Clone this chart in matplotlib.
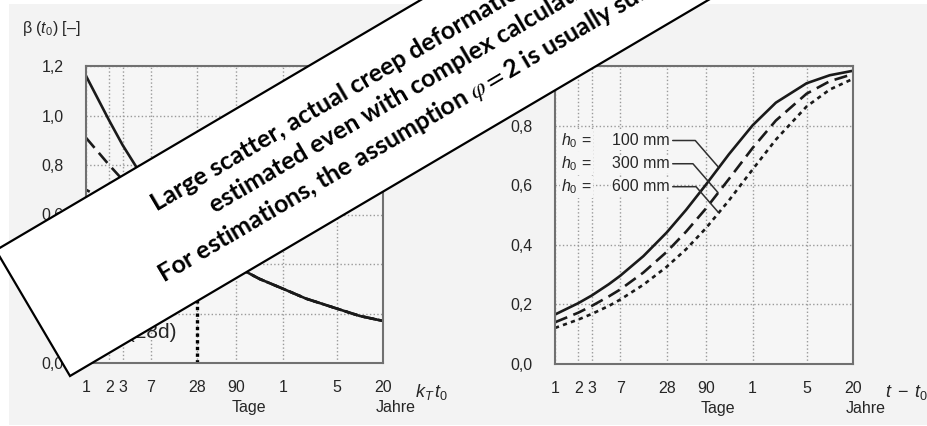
import numpy as np
import matplotlib.pyplot as plt
from matplotlib.patches import Polygon, Rectangle
from matplotlib.ticker import NullLocator

plt.rcParams['font.family'] = ['Liberation Sans', 'DejaVu Sans']
plt.rcParams['mathtext.fontset'] = 'custom'
plt.rcParams['mathtext.rm'] = 'Liberation Sans'
plt.rcParams['mathtext.it'] = 'Liberation Sans:italic'

# age / duration in days (log axis)
days = [1, 2, 3, 5, 7, 14, 28, 50, 90, 180, 365, 730, 1825, 3650, 7300]

# left: beta(t0) for three cement types
beta_t0_slow = [1.16, 0.98, 0.88, 0.77, 0.70, 0.59, 0.50, 0.44, 0.39, 0.34, 0.30, 0.26, 0.22, 0.19, 0.17]
beta_t0_norm = [0.91, 0.80, 0.74, 0.68, 0.63, 0.56, 0.49, 0.44, 0.39, 0.34, 0.30, 0.26, 0.22, 0.19, 0.17]
beta_t0_fast = [0.70, 0.65, 0.62, 0.59, 0.57, 0.53, 0.48, 0.43, 0.39, 0.34, 0.30, 0.26, 0.22, 0.19, 0.17]

# right: beta(t, t0) for h0 = 100 / 300 / 600 mm
beta_h100 = [0.166, 0.204, 0.230, 0.268, 0.296, 0.362, 0.441, 0.517, 0.601, 0.704, 0.801, 0.877, 0.942, 0.969, 0.984]
beta_h300 = [0.140, 0.172, 0.195, 0.227, 0.250, 0.307, 0.376, 0.444, 0.521, 0.621, 0.725, 0.817, 0.907, 0.949, 0.973]
beta_h600 = [0.121, 0.149, 0.168, 0.195, 0.216, 0.266, 0.326, 0.385, 0.455, 0.549, 0.653, 0.753, 0.864, 0.921, 0.957]
h0_labels = ['100 mm', '300 mm', '600 mm']

tick_days = [1, 2, 3, 7, 28, 90, 365, 1825, 7300]
tick_labels = ['1', '2', '3', '7', '28', '90', '1', '5', '20']

W, H = 928, 426
txt = '#262626'
fs = 11.5

fig = plt.figure(figsize=(W / 100, H / 100), dpi=100)
fig.patch.set_facecolor('white')
fig.add_artist(Rectangle((9 / W, 1 / H), 1, 421 / H, transform=fig.transFigure,
                         facecolor='#f3f3f3', edgecolor='none', zorder=-10))

ax1 = fig.add_axes([86 / W, 63 / H, 297 / W, 297 / H])
ax2 = fig.add_axes([555 / W, 62 / H, 298 / W, 298 / H])


def style(ax, ymax):
    ax.set_facecolor('#f6f6f6')
    ax.set_xscale('log')
    ax.set_xlim(1, 7300)
    ax.set_ylim(0, ymax)
    ax.set_xticks(tick_days)
    ax.set_xticklabels(tick_labels)
    ax.xaxis.set_minor_locator(NullLocator())
    yt = np.arange(0, ymax + 0.01, 0.2)
    ax.set_yticks(yt)
    ax.set_yticklabels([f'{v:.1f}'.replace('.', ',') for v in yt])
    ax.grid(True, ls=':', color='#9a9a9a', lw=1)
    ax.set_axisbelow(True)
    ax.tick_params(axis='both', length=0, labelsize=fs, colors=txt)
    ax.tick_params(axis='y', pad=16)
    ax.tick_params(axis='x', pad=12)
    for s in ax.spines.values():
        s.set_color('#707070')
        s.set_linewidth(1.5)
    ax.text(90 * 1.45, -0.125, 'Tage', transform=ax.get_xaxis_transform(), ha='center',
            va='top', fontsize=fs, color=txt)
    ax.text(7300 * 1.45, -0.125, 'Jahre', transform=ax.get_xaxis_transform(), ha='center',
            va='top', fontsize=fs, color=txt)


style(ax1, 1.2)
style(ax2, 1.0)

lw = 1.9
ax1.plot(days, beta_t0_fast, color='#1a1a1a', lw=lw, ls=(0, (1.6, 1.6)))
ax1.plot(days, beta_t0_norm, color='#1a1a1a', lw=lw, ls=(0, (5, 2.5)))
ax1.plot(days, beta_t0_slow, color='#1a1a1a', lw=lw)
ax1.plot([28, 28], [0, beta_t0_norm[days.index(28)]], color='black', lw=2.4, ls=(0, (1, 1)))
ax1.text(15.0, 0.1, 'β (28d)', ha='right', va='baseline', fontsize=15, color=txt)

ax2.plot(days, beta_h600, color='#1a1a1a', lw=lw, ls=(0, (1.6, 1.6)))
ax2.plot(days, beta_h300, color='#1a1a1a', lw=lw, ls=(0, (5, 2.5)))
ax2.plot(days, beta_h100, color='#1a1a1a', lw=lw)

# labels with leader lines
rows = [0.75, 0.672, 0.595]
ends = [0.662, 0.575, 0.51]
bb = dict(boxstyle='square,pad=0.1', facecolor='#f6f6f6', edgecolor='none')
for lab, yr, ye in zip(h0_labels, rows, ends):
    ax2.text(1.2, yr, '$h_0$ =', ha='left', va='center', fontsize=fs, color=txt, bbox=bb)
    ax2.annotate(lab, xy=(130, ye), xytext=(5.5, yr), ha='left', va='center',
                 fontsize=fs, color=txt, bbox=bb,
                 arrowprops=dict(arrowstyle='-', color='#303030', lw=1.1,
                                 connectionstyle='angle,angleA=0,angleB=-49,rad=0',
                                 shrinkA=1, shrinkB=0))

# axis titles
fig.text(22 / W, 1 - 28 / H, 'β ($t_0$) [–]', ha='left', va='center', fontsize=fs, color=txt)
fig.text(470 / W, 1 - 28 / H, 'β ($t, t_0$) [–]', ha='left', va='center', fontsize=fs, color=txt)
ax1.text(1.165, -0.065, r'$k_T\,t_0$', transform=ax1.transAxes, ha='center', va='top', fontsize=13, color=txt)
ax2.text(1.18, -0.065, r'$t\;-\;t_0$', transform=ax2.transAxes, ha='center', va='top', fontsize=13, color=txt)

# overlay note box
ov = fig.add_axes([0, 0, 1, 1], zorder=20)
ov.set_xlim(0, W)
ov.set_ylim(H, 0)
ov.axis('off')
ang = np.deg2rad(30.5)
u = np.array([np.cos(ang), -np.sin(ang)])
n = np.array([-np.sin(ang), -np.cos(ang)])
p0 = np.array([70.0, 376.0])
p1 = p0 + 146 * n
L = 1200
ov.add_patch(Polygon([p0, p0 + L * u, p1 + L * u, p1], closed=True, facecolor='white',
                     edgecolor='black', lw=1.6))
note = ['Large scatter, actual creep deformation can only be roughly',
        'estimated even with complex calculations.',
        r'For estimations, the assumption $\varphi=$2 is usually sufficient.']
starts = [(157, 212), (215, 214), (163, 283)]
for line, (sx, sy) in zip(note, starts):
    ov.text(sx, sy, line, rotation=30.5, rotation_mode='anchor', ha='left', va='baseline',
            fontsize=18, fontweight='bold', family='Lato', color='black', math_fontfamily='stix')

fig.savefig('out.png', dpi=100)
